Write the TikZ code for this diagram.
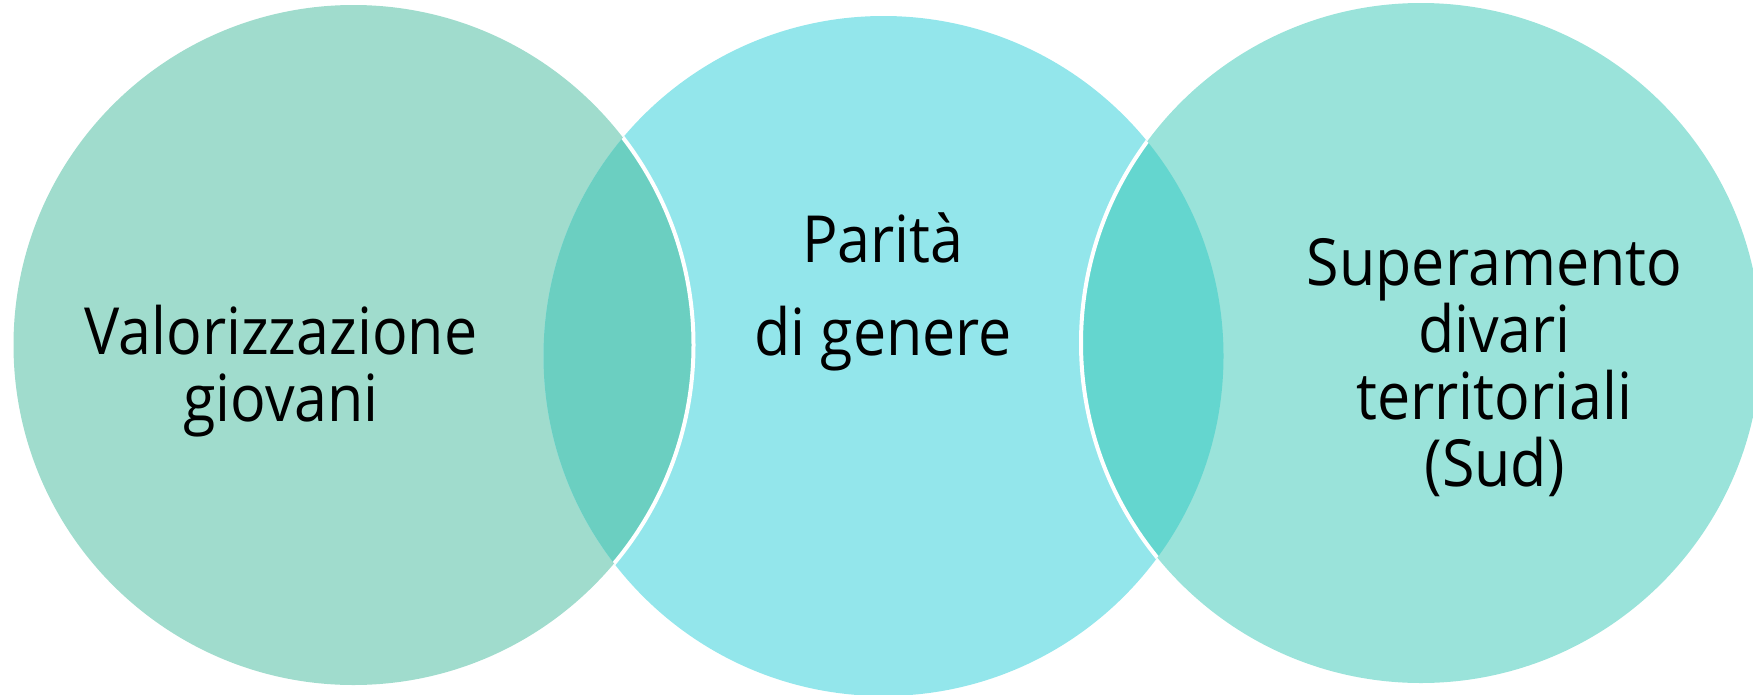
\documentclass[tikz,border=0pt]{standalone}
\usepackage{fontspec}
\setmainfont{Open Sans}[FakeStretch=0.91]
\definecolor{cA}{HTML}{A0DCCD}
\definecolor{cB}{HTML}{93E6EB}
\definecolor{cC}{HTML}{9AE3DA}
\definecolor{cAB}{HTML}{6BCFC1}
\definecolor{cBC}{HTML}{64D6CF}
\begin{document}
\begin{tikzpicture}[x=1pt,y=-1pt,
  lbl/.style={font=\fontsize{65}{67}\selectfont, align=center, inner sep=0pt, anchor=base, text=black},
  rim/.style={draw=white, line width=4pt}]
\useasboundingbox (0,0) rectangle (1753,694);
\clip (0,0) rectangle (1753,694);
\coordinate (A) at (353.5,345);
\coordinate (B) at (883.5,356);
\coordinate (C) at (1421,343);
\def\R{340pt}
\fill[cA] (A) circle[radius=\R];
\fill[cB] (B) circle[radius=\R];
\fill[cC] (C) circle[radius=\R];
\begin{scope}
  \clip (A) circle[radius=\R];
  \fill[cAB] (B) circle[radius=\R];
\end{scope}
\begin{scope}
  \clip (C) circle[radius=\R];
  \fill[cBC] (B) circle[radius=\R];
\end{scope}
\begin{scope}
  \clip (B) circle[radius=\R];
  \draw[rim] (A) circle[radius=\R];
  \draw[rim] (C) circle[radius=\R];
\end{scope}
\node[lbl] (t1) at (281,421) {Valorizzazione\\giovani};
\node[lbl] (t2) at (883,355) {Parità\\[26pt]di genere};
\node[lbl] (t3) at (1494.5,486) {Superamento\\divari\\territoriali\\(Sud)};
\end{tikzpicture}
\end{document}
